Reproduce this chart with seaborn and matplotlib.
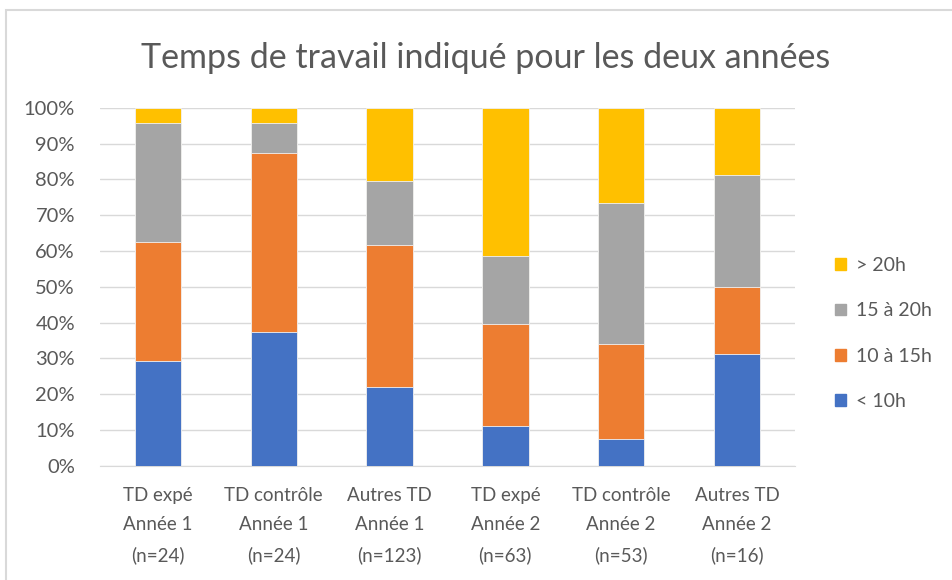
import matplotlib
matplotlib.use('Agg')

import matplotlib.pyplot as plt
import matplotlib.patches as mpatches
import numpy as np
import pandas as pd
import seaborn as sns

# groups (x-axis)
groups = [
	'TD expé\nAnnée 1\n(n=24)',
	'TD contrôle\nAnnée 1\n(n=24)',
	'Autres TD\nAnnée 1\n(n=123)',
	'TD expé\nAnnée 2\n(n=63)',
	'TD contrôle\nAnnée 2\n(n=53)',
	'Autres TD\nAnnée 2\n(n=16)',
]

# share of students per class of working time (%)
moins_10h = [29.2, 37.5, 22.0, 11.1, 7.5, 31.25]
de_10_15h = [33.3, 50.0, 39.8, 28.6, 26.4, 18.75]
de_15_20h = [33.3, 8.3, 17.9, 19.0, 39.6, 31.25]
plus_20h = [4.2, 4.2, 20.3, 41.3, 26.5, 18.75]

series = ['< 10h', '10 à 15h', '15 à 20h', '> 20h']
colors = ['#4472c4', '#ed7d31', '#a5a5a5', '#ffc000']

df = pd.DataFrame({
	'groupe': groups,
	'< 10h': moins_10h,
	'10 à 15h': de_10_15h,
	'15 à 20h': de_15_20h,
	'> 20h': plus_20h,
})

# cumulative tops of each stacked segment
cum = df[series].cumsum(axis=1)

sns.set_style('white')
plt.rcParams['font.family'] = ['Lato', 'DejaVu Sans']

fig = plt.figure(figsize=(9.52, 5.8), dpi=100)
ax = fig.add_axes([0.105, 0.197, 0.73, 0.617])

# draw from the tallest cumulative down so lower segments overlay
for name, color in reversed(list(zip(series, colors))):
	sns.barplot(
		x=df['groupe'], y=cum[name], color=color, saturation=1, width=0.4,
		edgecolor='#f2f2f2', linewidth=0.6, ax=ax, zorder=3)

ax.set_ylim(0, 100)
ax.set_yticks(np.arange(0, 101, 10))
ax.set_yticklabels(['%d%%' % v for v in range(0, 101, 10)])
ax.set_xlabel('')
ax.set_ylabel('')
ax.yaxis.grid(True, color='#d9d9d9', linewidth=1.0, zorder=0)
ax.set_axisbelow(True)
for s in ['top', 'right', 'left']:
	ax.spines[s].set_visible(False)
ax.spines['bottom'].set_color('#d9d9d9')
ax.tick_params(axis='both', length=0, colors='#595959')
ax.tick_params(axis='y', labelsize=14.5, pad=18)
ax.tick_params(axis='x', labelsize=13.5, pad=15)
for lbl in ax.get_xticklabels():
	lbl.set_linespacing(1.9)

fig.text(0.51, 0.9, 'Temps de travail indiqué pour les deux années',
	ha='center', va='center', fontsize=24.5, color='#595959')

# legend, top entry first as in the reference
handles = [mpatches.Patch(color=c, label=n) for n, c in zip(series, colors)][::-1]
fig.legend(handles=handles, loc='center left', bbox_to_anchor=(0.859, 0.425),
	frameon=False, fontsize=14, labelcolor='#595959',
	handlelength=0.55, handleheight=0.55, handletextpad=0.5, labelspacing=1.45)

# light frame around the chart
fig.patches.append(mpatches.Rectangle((0.0063, -0.01), 1.2, 0.993, transform=fig.transFigure,
	fill=False, edgecolor='#d9d9d9', linewidth=1.5))

plt.savefig('out.png')
plt.close()
